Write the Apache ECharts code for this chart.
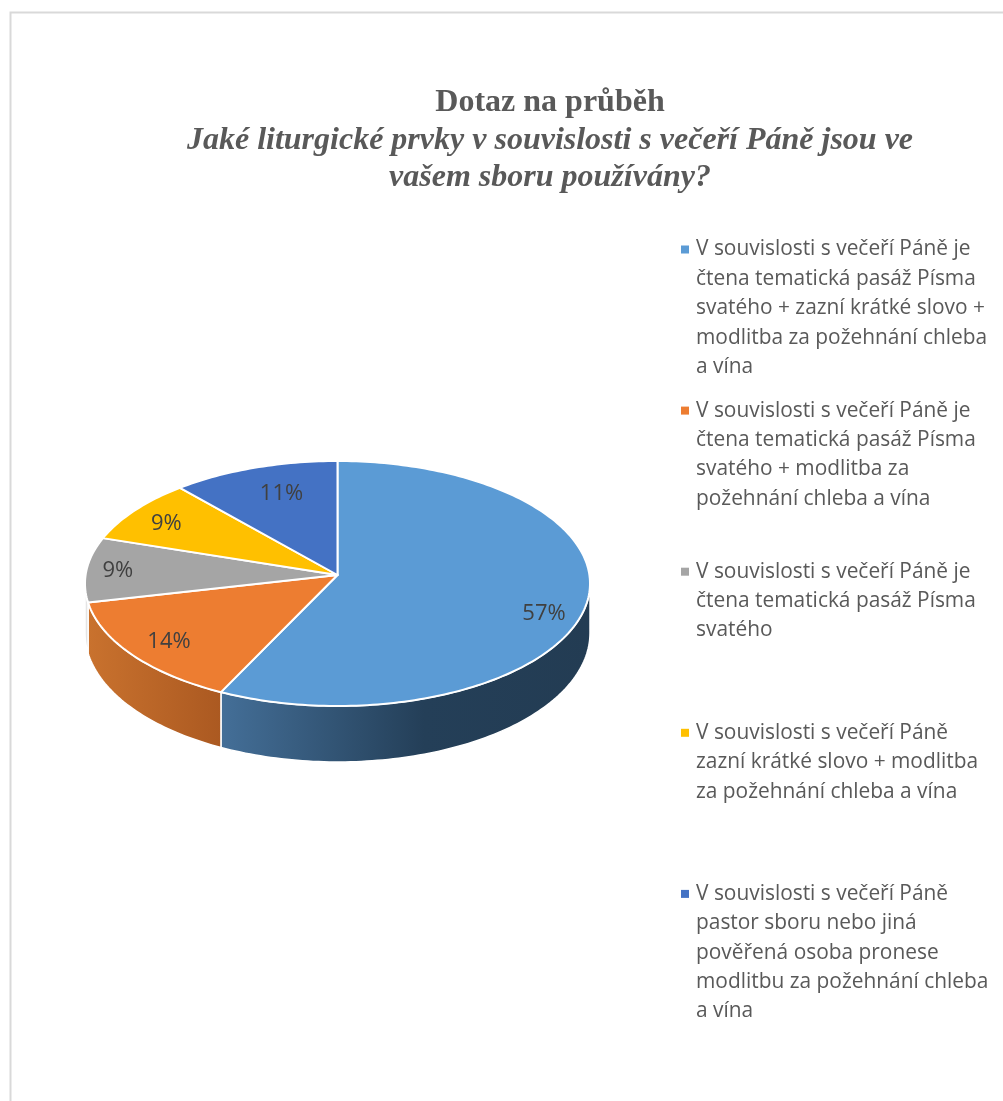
<!DOCTYPE html>
<html>
<head>
<meta charset="utf-8">
<style>html,body{margin:0;padding:0;background:#fff}#chart{width:1003px;height:1101px}</style>
<script src="https://cdn.jsdelivr.net/npm/echarts@6/dist/echarts.min.js"></script>
</head>
<body>
<div id="chart"></div>
<script>
// ---- data ----
const categories = [
  'V souvislosti s večeří Páně je čtena tematická pasáž Písma svatého + zazní krátké slovo + modlitba za požehnání chleba a vína',
  'V souvislosti s večeří Páně je čtena tematická pasáž Písma svatého + modlitba za požehnání chleba a vína',
  'V souvislosti s večeří Páně je čtena tematická pasáž Písma svatého',
  'V souvislosti s večeří Páně zazní krátké slovo + modlitba za požehnání chleba a vína',
  'V souvislosti s večeří Páně pastor sboru nebo jiná pověřená osoba pronese modlitbu za požehnání chleba a vína'
];
const values = [57.14, 14.29, 8.57, 8.57, 11.43];
const titleLine1 = 'Dotaz na průběh';
const titleLine2 = 'Jaké liturgické prvky v souvislosti s večeří Páně jsou ve';
const titleLine3 = 'vašem sboru používány?';
const legendLines = [
  ['V souvislosti s večeří Páně je','čtena tematická pasáž Písma','svatého + zazní krátké slovo +','modlitba za požehnání chleba','a vína'],
  ['V souvislosti s večeří Páně je','čtena tematická pasáž Písma','svatého + modlitba za','požehnání chleba a vína'],
  ['V souvislosti s večeří Páně je','čtena tematická pasáž Písma','svatého'],
  ['V souvislosti s večeří Páně','zazní krátké slovo + modlitba','za požehnání chleba a vína'],
  ['V souvislosti s večeří Páně','pastor sboru nebo jiná','pověřená osoba pronese','modlitbu za požehnání chleba','a vína']
];
// ---- style ----
const colors = ['#5b9bd5','#ed7d31','#a5a5a5','#ffc000','#4472c4'];
const sideStops = [
  [[0,'#446f98'],[0.55,'#243f58'],[1,'#233c53']],
  [[0,'#c9722e'],[1,'#ab5921']],
  [[0,'#e4e4e4'],[1,'#e4e4e4']],
  [[0,'#b38600'],[1,'#b38600']],
  [[0,'#2f5597'],[1,'#2f5597']]
];
const apex = {x:337.5, y:575};
const geo = {R:251.9, S:121.9, k:0.0694, d0:49, d1:7};
const labelRadius = [0.83,0.825,0.875,0.84,0.66];
const labelDrop = [16,2,1,3,-9];
const total = values.reduce((a,b)=>a+b,0);

function rim(phi, r){
  const sx = Math.sin(phi)*r, sy = -Math.cos(phi)*r, w = 1 - geo.k*sy;
  return [apex.x + geo.R*sx/w, apex.y + geo.S*sy/w];
}
function sampleArc(a,b,r){
  const n = Math.max(2, Math.ceil((b-a)/0.02)), pts=[];
  for(let i=0;i<=n;i++) pts.push(rim(a+(b-a)*i/n, r));
  return pts;
}
const turn = Math.PI*2;
const frontA = Math.acos(-geo.k), frontB = turn - frontA;

function sliceItem(idx){
  return function(params, api){
    const val = api.value(0);
    let before = 0;
    for(let i=0;i<idx;i++) before += values[i];
    const a = before/total*turn, b = (before+val)/total*turn;
    const kids = [];
    const fa = Math.max(a,frontA), fb = Math.min(b,frontB);
    if(fb>fa){
      const top = sampleArc(fa,fb,1);
      const bottom = top.map((p,i)=>{
        const phi = fa+(fb-fa)*i/(top.length-1);
        const d = geo.d0 + geo.d1*Math.max(0,-Math.cos(phi));
        return [p[0],p[1]+d];
      }).reverse();
      kids.push({type:'polygon',shape:{points:top.concat(bottom)},
        style:{fill:new echarts.graphic.LinearGradient(0,0,1,0,sideStops[idx].map(s=>({offset:s[0],color:s[1]}))),stroke:'#fff',lineWidth:1.5},z2:1});
    }
    kids.push({type:'polygon',shape:{points:[[apex.x,apex.y]].concat(sampleArc(a,b,1))},
      style:{fill:colors[idx],stroke:'#fff',lineWidth:2,lineJoin:'round'},z2:2});
    const mid = rim((a+b)/2, labelRadius[idx]);
    kids.push({type:'text',x:mid[0],y:mid[1]+labelDrop[idx],z2:3,
      style:{text:Math.round(val)+'%',fill:'#404040',font:'22px "Open Sans"',align:'center',verticalAlign:'middle'}});
    return {type:'group',children:kids};
  };
}

const rich = {
  line:{lineHeight:29.4,fontSize:20.9,fontFamily:'Open Sans',color:'#595959'},
  indent:{width:15,lineHeight:29.4,fontSize:20.9}
};
colors.forEach((c,i)=>{
  rich['sw'+i] = {width:8,height:8,backgroundColor:c,lineHeight:29.4,fontSize:8,verticalAlign:'middle'};
});
rich.gap = {width:7,lineHeight:29.4,fontSize:20.9};
const nb = '\u00a0';
function legendText(name){
  const i = categories.indexOf(name);
  const out = legendLines[i].map((t,j)=> j===0
    ? `{sw${i}|${nb}}{gap|${nb}}{line|${t}}`
    : `{indent|${nb}}{line|${t}}`);
  while(out.length<5) out.push(`{indent|${nb}}`);
  return out.join('\n');
}

const option = {
  backgroundColor:'#fff',
  animation:false,
  title:{
    left:545, top:79, textAlign:'center',
    text:`{a|${titleLine1}}\n{b|${titleLine2}}\n{b|${titleLine3}}`,
    textStyle:{rich:{
      a:{fontFamily:'Liberation Serif',fontWeight:'bold',fontSize:32,lineHeight:37.5,color:'#595959',align:'center'},
      b:{fontFamily:'Liberation Serif',fontWeight:'bold',fontStyle:'italic',fontSize:32,lineHeight:37.5,color:'#595959',align:'center'}
    }}
  },
  legend:{
    orient:'vertical', left:676, top:239, padding:0,
    itemWidth:0, itemHeight:0, itemGap:22.5, icon:'rect',
    selectedMode:false,
    data:categories,
    formatter:legendText,
    textStyle:{rich:rich,padding:0}
  },
  graphic:[{type:'polyline',silent:true,shape:{points:[[10.5,1101],[10.5,12.5],[1003,12.5]]},
    style:{stroke:'#d9d9d9',lineWidth:2,fill:null}}],
  series:categories.map((name,i)=>({
    type:'custom', name, coordinateSystem:'none', silent:true,
    itemStyle:{color:colors[i]},
    data:[[values[i]]],
    renderItem:sliceItem(i)
  }))
};
const chart = echarts.init(document.getElementById('chart'));
chart.setOption(option);
</script>
</body>
</html>
